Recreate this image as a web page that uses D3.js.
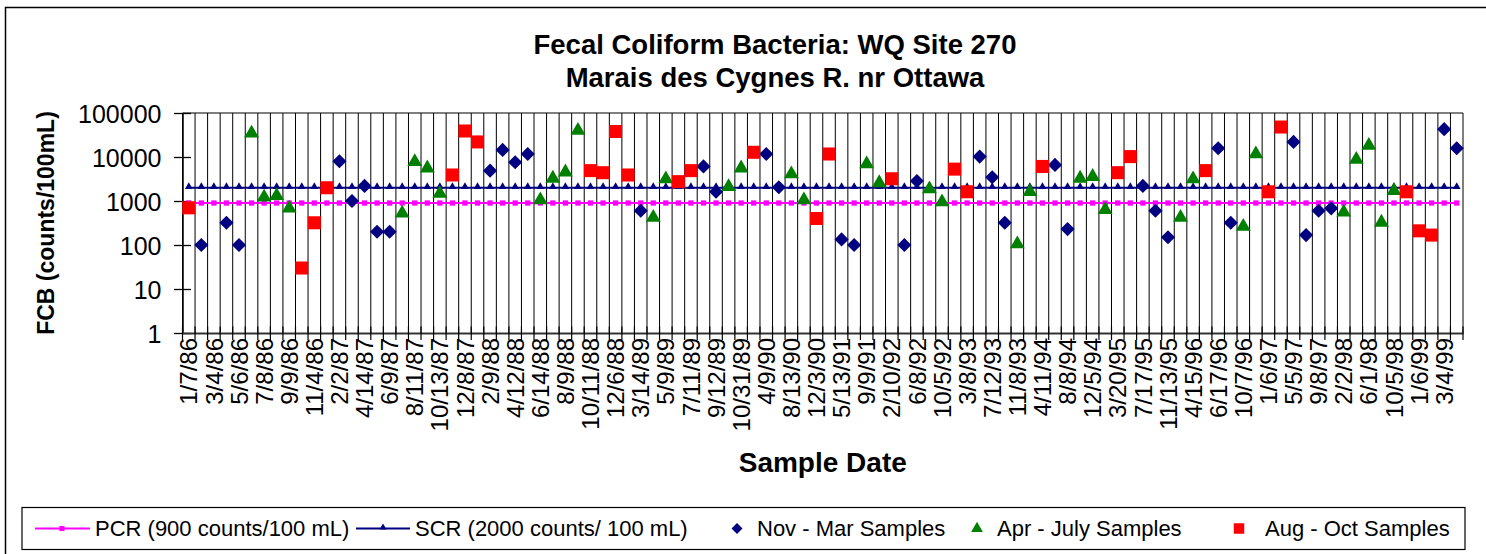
<!DOCTYPE html>
<html><head><meta charset="utf-8">
<script src="https://cdn.jsdelivr.net/npm/d3@7"></script>
<style>
body{margin:0;background:#fff}
svg text{font-family:"Liberation Sans",Arial,Helvetica,sans-serif;fill:#000}
</style>
</head><body>
<svg id="chart" width="1486" height="554"></svg>
<script>
// ---- data ----
const sampleCount = 102; // one category per sample date
const tickLabels = ["1/7/86","3/4/86","5/6/86","7/8/86","9/9/86","11/4/86","2/2/87","4/14/87","6/9/87","8/11/87",
  "10/13/87","12/8/87","2/9/88","4/12/88","6/14/88","8/9/88","10/11/88","12/6/88","3/14/89","5/9/89",
  "7/11/89","9/12/89","10/31/89","4/9/90","8/13/90","12/3/90","5/13/91","9/9/91","2/10/92","6/8/92",
  "10/5/92","3/8/93","7/12/93","11/8/93","4/11/94","8/8/94","12/5/94","3/20/95","7/17/95","11/13/95",
  "4/15/96","6/17/96","10/7/96","1/6/97","5/5/97","9/8/97","2/2/98","6/1/98","10/5/98","1/6/99","3/4/99"];
const yTicks = [1, 10, 100, 1000, 10000, 100000];
const pcrValue = 900;
const scrValue = 2000;
// [sample index, counts/100mL]
const novMar = [[1,100],[3,320],[4,100],[12,8000],[13,1000],[14,2200],[15,200],[16,200],[24,4900],[25,14500],
  [26,7600],[27,11700],[36,600],[41,6100],[42,1620],[46,11700],[47,2050],[52,134],[53,100],[57,100],[58,2850],
  [63,10200],[64,3470],[65,320],[69,6600],[70,230],[76,2200],[77,600],[78,150],[82,15800],[83,320],[88,22000],
  [89,168],[90,600],[91,680],[100,43000],[101,15800]];
const aprJul = [[5,33000],[6,1150],[7,1250],[8,650],[17,500],[18,7400],[19,5300],[20,1400],[28,1000],[29,3100],
  [30,4300],[31,38000],[37,400],[38,3000],[43,2000],[44,5300],[48,3900],[49,1000],[54,6600],[55,2450],[59,1770],
  [60,900],[66,100],[67,1540],[71,3100],[72,3400],[73,600],[79,400],[80,3000],[84,250],[85,11100],[92,525],
  [93,8300],[94,17300],[95,310],[96,1620]];
const augOct = [[0,700],[9,30],[10,320],[11,2000],[21,3900],[22,39000],[23,22000],[32,4900],[33,4400],[34,38000],
  [35,3900],[39,2750],[40,4900],[45,12800],[50,400],[51,11700],[56,3200],[61,5300],[62,1620],[68,6100],
  [74,4400],[75,10200],[81,4900],[86,1620],[87,48000],[97,1620],[98,210],[99,168]];

// ---- layout ----
const svg = d3.select("#chart");
const L = 182.5, R = 1463, T = 113, B = 333;
const cats = d3.range(sampleCount);
const x = d3.scaleBand().domain(cats).range([L, R]).paddingInner(0).paddingOuter(0);
const bw = x.bandwidth();
const cx = i => x(i) + bw / 2;
const y = d3.scaleLog().domain([1, 100000]).range([B, T]);

// outer frame
svg.append("rect").attr("x", 5.5).attr("y", 7.5).attr("width", 1500).attr("height", 600)
  .attr("fill", "none").attr("stroke", "#000").attr("stroke-width", 1.5);

// titles
svg.append("text").attr("x", 775).attr("y", 54).attr("text-anchor", "middle")
  .style("font-size", "27.5px").style("font-weight", "bold").text("Fecal Coliform Bacteria: WQ Site 270");
svg.append("text").attr("x", 775).attr("y", 87).attr("text-anchor", "middle")
  .style("font-size", "27.5px").style("font-weight", "bold").text("Marais des Cygnes R. nr Ottawa");

// vertical gridlines at category boundaries
const bounds = cats.map(i => x(i)).concat([R]);
svg.append("g").selectAll("line").data(bounds).join("line")
  .attr("x1", d => d).attr("x2", d => d).attr("y1", T).attr("y2", B)
  .attr("stroke", "#000").attr("stroke-width", 1);
// top border
svg.append("line").attr("x1", L).attr("x2", R).attr("y1", T).attr("y2", T)
  .attr("stroke", "#000").attr("stroke-width", 1.2);

// y axis
const yAxis = d3.axisLeft(y).tickValues(yTicks).tickFormat(d3.format("d")).tickSize(0).tickPadding(20);
const gy = svg.append("g").attr("transform", `translate(${L},0)`).call(yAxis);
gy.select(".domain").attr("stroke", "#000").attr("stroke-width", 1.5);
gy.selectAll("text").style("font-size", "25px").attr("x", -21).attr("dy", "0.36em");
gy.selectAll(".tick").append("line").attr("x1", -8.5).attr("x2", 8.5).attr("stroke", "#000").attr("stroke-width", 1.3);

// x axis
const xAxis = d3.axisBottom(x).tickValues(cats.filter(i => i % 2 === 0))
  .tickFormat(i => tickLabels[i / 2]).tickSize(0);
const gx = svg.append("g").attr("transform", `translate(0,${B})`).call(xAxis);
gx.select(".domain").attr("stroke", "#333").attr("stroke-width", 2);
gx.selectAll("text").style("font-size", "24px")
  .attr("transform", "rotate(-90)").attr("text-anchor", "end")
  .attr("x", -5).attr("y", 0).attr("dy", "0.36em");
svg.append("g").selectAll("line").data(bounds).join("line")
  .attr("x1", d => d).attr("x2", d => d).attr("y1", B - 6.5).attr("y2", B + 7)
  .attr("stroke", "#000").attr("stroke-width", 1.2);

// axis titles
svg.append("text").attr("transform", `translate(54,${(T + B) / 2}) rotate(-90)`).attr("text-anchor", "middle")
  .style("font-size", "23px").style("font-weight", "bold").text("FCB (counts/100mL)");
svg.append("text").attr("x", (L + R) / 2).attr("y", 472).attr("text-anchor", "middle")
  .style("font-size", "28px").style("font-weight", "bold").text("Sample Date");

// reference lines
const refLine = v => d3.line().x(i => cx(i)).y(() => y(v))(cats);
svg.append("path").attr("d", refLine(pcrValue)).attr("fill", "none").attr("stroke", "#FF00FF").attr("stroke-width", 2);
svg.append("g").selectAll("path").data(cats).join("path")
  .attr("transform", i => `translate(${cx(i)},${y(pcrValue)})`)
  .attr("d", d3.symbol(d3.symbolSquare, 28)()).attr("fill", "#FF00FF");
svg.append("path").attr("d", refLine(scrValue)).attr("fill", "none").attr("stroke", "#000080").attr("stroke-width", 2);
svg.append("g").selectAll("path").data(cats).join("path")
  .attr("transform", i => `translate(${cx(i)},${y(scrValue) - 1})`)
  .attr("d", d3.symbol(d3.symbolTriangle, 26)()).attr("fill", "#000080");

// sample markers
const diamond = d3.symbol(d3.symbolSquare, 100)();
const tri = d3.symbol(d3.symbolTriangle, 95)();
const sq = d3.symbol(d3.symbolSquare, 170)();
svg.append("g").selectAll("path").data(novMar).join("path")
  .attr("transform", d => `translate(${cx(d[0])},${y(d[1])}) rotate(45)`)
  .attr("d", diamond).attr("fill", "#000080");
svg.append("g").selectAll("path").data(aprJul).join("path")
  .attr("transform", d => `translate(${cx(d[0])},${y(d[1]) - 1})`)
  .attr("d", tri).attr("fill", "#008000");
svg.append("g").selectAll("path").data(augOct).join("path")
  .attr("transform", d => `translate(${cx(d[0])},${y(d[1])})`)
  .attr("d", sq).attr("fill", "#FF0000");

// legend
const lg = svg.append("g");
lg.append("rect").attr("x", 22).attr("y", 507.5).attr("width", 1443).attr("height", 42)
  .attr("fill", "#fff").attr("stroke", "#000").attr("stroke-width", 1.2);
const ly = 528.5;
const lfs = "22px";
// PCR
lg.append("line").attr("x1", 35).attr("x2", 90).attr("y1", ly).attr("y2", ly).attr("stroke", "#FF00FF").attr("stroke-width", 2);
lg.append("path").attr("transform", `translate(62,${ly})`).attr("d", d3.symbol(d3.symbolSquare, 26)()).attr("fill", "#FF00FF");
lg.append("text").attr("x", 95).attr("y", ly).attr("dy", "0.36em").style("font-size", lfs).text("PCR (900 counts/100 mL)");
// SCR
lg.append("line").attr("x1", 356).attr("x2", 410).attr("y1", ly).attr("y2", ly).attr("stroke", "#000080").attr("stroke-width", 2);
lg.append("path").attr("transform", `translate(383,${ly - 1})`).attr("d", d3.symbol(d3.symbolTriangle, 22)()).attr("fill", "#000080");
lg.append("text").attr("x", 415).attr("y", ly).attr("dy", "0.36em").style("font-size", lfs).text("SCR (2000 counts/ 100 mL)");
// Nov-Mar
lg.append("path").attr("transform", `translate(737,${ly}) rotate(45)`).attr("d", d3.symbol(d3.symbolSquare, 60)()).attr("fill", "#000080");
lg.append("text").attr("x", 757).attr("y", ly).attr("dy", "0.36em").style("font-size", lfs).text("Nov - Mar Samples");
// Apr-July
lg.append("path").attr("transform", `translate(977,${ly})`).attr("d", d3.symbol(d3.symbolTriangle, 60)()).attr("fill", "#008000");
lg.append("text").attr("x", 997).attr("y", ly).attr("dy", "0.36em").style("font-size", lfs).text("Apr - July Samples");
// Aug-Oct
lg.append("path").attr("transform", `translate(1239,${ly})`).attr("d", d3.symbol(d3.symbolSquare, 110)()).attr("fill", "#FF0000");
lg.append("text").attr("x", 1265).attr("y", ly).attr("dy", "0.36em").style("font-size", lfs).text("Aug - Oct Samples");
</script>
</body></html>
